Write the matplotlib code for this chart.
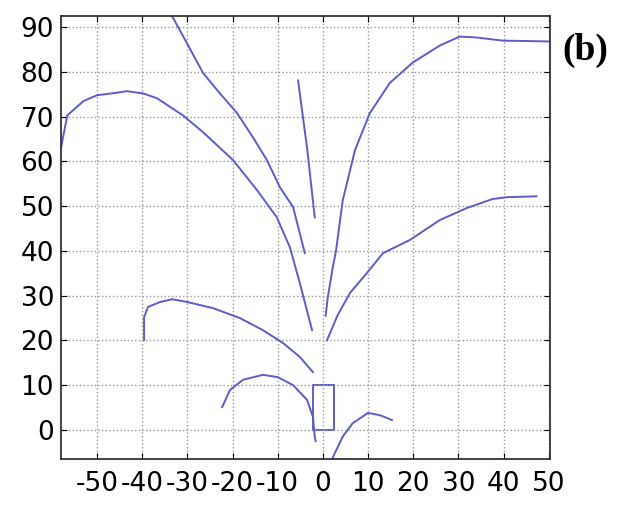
import matplotlib.pyplot as plt
from matplotlib.patches import Rectangle

plt.rcParams['font.family'] = ['DejaVu Sans']

# traced curves, (x, y) in metres
arch_left_x = [-58, -56.6, -53, -50, -46, -43.4, -39.8, -36.7, -31, -26.5, -19.9, -14.6, -10.2, -7.3, -5.1, -2.4]
arch_left_y = [63, 70.3, 73.5, 74.8, 75.3, 75.7, 75.2, 74.1, 70.3, 66.5, 60.3, 53.6, 47.5, 40.8, 32.8, 22.3]

upper_x = [-33.4, -30.1, -26.5, -22.8, -19, -15.5, -12.4, -9.5, -6.6, -4.0]
upper_y = [92.5, 86.4, 79.7, 75.2, 70.8, 65.4, 60.3, 54.2, 49.8, 39.5]

middle_x = [-5.5, -3.5, -1.8]
middle_y = [78.1, 63, 47.5]

right_top_x = [0.6, 1.1, 2.2, 2.9, 4.4, 7.1, 10.4, 14.8, 19.9, 25.9, 30.3, 34, 39.8, 50.5]
right_top_y = [25.5, 29.7, 36.4, 40, 51.3, 62.5, 70.8, 77.5, 82.1, 85.9, 87.9, 87.7, 87, 86.8]

right_low_x = [0.9, 3.2, 6, 9.7, 13.3, 19.2, 25.9, 31.9, 37.6, 40.7, 47.3]
right_low_y = [20, 25.5, 30.6, 35, 39.5, 42.4, 46.9, 49.6, 51.6, 52, 52.2]

mid_arc_x = [-39.6, -39.6, -38.7, -36, -33.4, -30.1, -24.3, -18.4, -13.3, -8.8, -5.1, -2.2]
mid_arc_y = [20.1, 25.2, 27.5, 28.6, 29.2, 28.6, 27.2, 25, 22.3, 19.4, 16.3, 12.9]

small_arc_x = [-22.3, -20.6, -17.7, -13.3, -10, -6.6, -3.5, -2.2, -1.8, -1.6]
small_arc_y = [5.1, 8.9, 11.2, 12.3, 11.8, 10, 6.7, 2.9, -1.6, -2.5]

bottom_arc_x = [1.5, 2.5, 4.4, 6.6, 10, 12.6, 15.3]
bottom_arc_y = [-8, -5.5, -1.5, 1.5, 3.8, 3.3, 2.2]

box_x, box_y, box_w, box_h = -2.2, 0, 4.6, 10

xticks = list(range(-50, 51, 10))
yticks = list(range(0, 91, 10))

fig = plt.figure(figsize=(6.21, 5.08), dpi=100)
ax = fig.add_axes([0.0982, 0.0965, 0.7875, 0.872])

line_color = '#5c5cc8'
for xs, ys in [(arch_left_x, arch_left_y), (upper_x, upper_y), (middle_x, middle_y),
               (right_top_x, right_top_y), (right_low_x, right_low_y),
               (mid_arc_x, mid_arc_y), (small_arc_x, small_arc_y),
               (bottom_arc_x, bottom_arc_y)]:
    ax.plot(xs, ys, color=line_color, lw=1.4)

ax.add_patch(Rectangle((box_x, box_y), box_w, box_h, fill=False,
                       edgecolor=line_color, lw=1.4))

ax.set_xlim(-58, 50.3)
ax.set_ylim(-6.5, 92.5)
ax.set_xticks(xticks)
ax.set_yticks(yticks)
ax.tick_params(labelsize=19, direction='in', top=True, right=True, length=4, pad=5)
ax.tick_params(axis='x', pad=9)
ax.set_xticklabels([str(t) for t in xticks])
ax.grid(True, linestyle=':', color='#999999', lw=1.0)
for s in ax.spines.values():
    s.set_linewidth(1.3)
    s.set_color('#333333')

fig.text(0.905, 0.90, '(b)', fontsize=27, fontweight='bold',
         family=['Liberation Serif', 'DejaVu Serif'], va='center', ha='left')

fig.savefig('out.png', dpi=100)
